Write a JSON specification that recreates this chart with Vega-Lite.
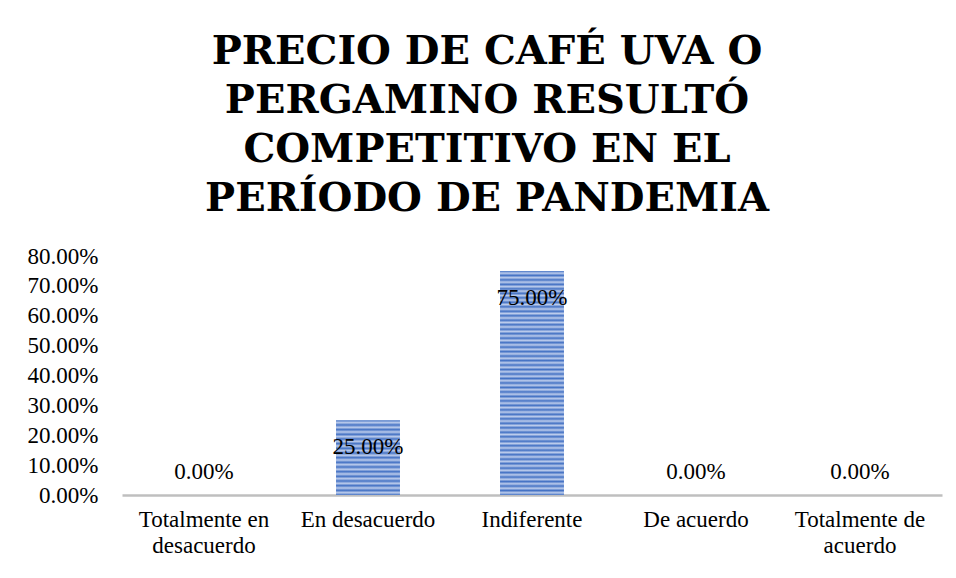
{
  "$schema": "https://vega.github.io/schema/vega-lite/v6.json",
  "autosize": {"type": "none"},
  "width": 820,
  "height": 239,
  "padding": {"left": 122, "top": 256, "right": 14, "bottom": 83},
  "background": "white",
  "title": {
    "text": ["PRECIO DE CAFÉ UVA O", "PERGAMINO RESULTÓ", "COMPETITIVO EN EL", "PERÍODO DE PANDEMIA"],
    "font": "DejaVu Serif",
    "fontSize": 40,
    "fontWeight": "bold",
    "lineHeight": 49,
    "color": "#000000",
    "anchor": "middle",
    "dx": -45,
    "offset": 26
  },
  "data": {
    "values": [
      {"categoria": "Totalmente en desacuerdo", "valor": 0},
      {"categoria": "En desacuerdo", "valor": 0.25},
      {"categoria": "Indiferente", "valor": 0.75},
      {"categoria": "De acuerdo", "valor": 0},
      {"categoria": "Totalmente de acuerdo", "valor": 0}
    ]
  },
  "encoding": {
    "x": {
      "field": "categoria",
      "type": "nominal",
      "sort": ["Totalmente en desacuerdo", "En desacuerdo", "Indiferente", "De acuerdo", "Totalmente de acuerdo"],
      "scale": {"domain": ["Totalmente en desacuerdo", "En desacuerdo", "Indiferente", "De acuerdo", "Totalmente de acuerdo"], "paddingInner": 0.61, "paddingOuter": 0.305},
      "axis": {
        "title": null,
        "labelAngle": 0,
        "labelFont": "Liberation Serif",
        "labelFontSize": 23,
        "labelColor": "#000000",
        "labelPadding": 13,
        "labelLineHeight": 26,
        "labelBaseline": "top",
        "ticks": false,
        "domainColor": "#BFBFBF",
        "domainWidth": 2.5,
        "labelExpr": "datum.value == 'Totalmente en desacuerdo' ? ['Totalmente en', 'desacuerdo'] : datum.value == 'Totalmente de acuerdo' ? ['Totalmente de', 'acuerdo'] : datum.label"
      }
    },
    "y": {
      "field": "valor",
      "type": "quantitative",
      "scale": {"domain": [0, 0.8], "nice": false},
      "axis": {
        "title": null,
        "format": ".2%",
        "values": [0, 0.1, 0.2, 0.3, 0.4, 0.5, 0.6, 0.7, 0.8],
        "labelFont": "Liberation Serif",
        "labelFontSize": 23,
        "labelColor": "#000000",
        "labelPadding": 24,
        "ticks": false,
        "domain": false,
        "grid": false
      }
    }
  },
  "layer": [
    {
      "transform": [{"filter": "datum.valor > 0 && datum.valor < 0.5"}],
      "mark": {
        "type": "bar",
        "fill": {
          "gradient": "linear", "x1": 0, "y1": 0, "x2": 0, "y2": 1,
          "stops": [
            {"offset": 0, "color": "#4472C4"}, {"offset": 0.03125, "color": "#BCCCEC"},
            {"offset": 0.0625, "color": "#4472C4"}, {"offset": 0.09375, "color": "#BCCCEC"},
            {"offset": 0.125, "color": "#4472C4"}, {"offset": 0.15625, "color": "#BCCCEC"},
            {"offset": 0.1875, "color": "#4472C4"}, {"offset": 0.21875, "color": "#BCCCEC"},
            {"offset": 0.25, "color": "#4472C4"}, {"offset": 0.28125, "color": "#BCCCEC"},
            {"offset": 0.3125, "color": "#4472C4"}, {"offset": 0.34375, "color": "#BCCCEC"},
            {"offset": 0.375, "color": "#4472C4"}, {"offset": 0.40625, "color": "#BCCCEC"},
            {"offset": 0.4375, "color": "#4472C4"}, {"offset": 0.46875, "color": "#BCCCEC"},
            {"offset": 0.5, "color": "#4472C4"}, {"offset": 0.53125, "color": "#BCCCEC"},
            {"offset": 0.5625, "color": "#4472C4"}, {"offset": 0.59375, "color": "#BCCCEC"},
            {"offset": 0.625, "color": "#4472C4"}, {"offset": 0.65625, "color": "#BCCCEC"},
            {"offset": 0.6875, "color": "#4472C4"}, {"offset": 0.71875, "color": "#BCCCEC"},
            {"offset": 0.75, "color": "#4472C4"}, {"offset": 0.78125, "color": "#BCCCEC"},
            {"offset": 0.8125, "color": "#4472C4"}, {"offset": 0.84375, "color": "#BCCCEC"},
            {"offset": 0.875, "color": "#4472C4"}, {"offset": 0.90625, "color": "#BCCCEC"},
            {"offset": 0.9375, "color": "#4472C4"}, {"offset": 0.96875, "color": "#BCCCEC"},
            {"offset": 1, "color": "#4472C4"}
          ]
        }
      }
    },
    {
      "transform": [{"filter": "datum.valor >= 0.5"}],
      "mark": {
        "type": "bar",
        "fill": {
          "gradient": "linear", "x1": 0, "y1": 0, "x2": 0, "y2": 1,
          "stops": [
            {"offset": 0, "color": "#4472C4"}, {"offset": 0.01, "color": "#BCCCEC"},
            {"offset": 0.02, "color": "#4472C4"}, {"offset": 0.03, "color": "#BCCCEC"},
            {"offset": 0.04, "color": "#4472C4"}, {"offset": 0.05, "color": "#BCCCEC"},
            {"offset": 0.06, "color": "#4472C4"}, {"offset": 0.07, "color": "#BCCCEC"},
            {"offset": 0.08, "color": "#4472C4"}, {"offset": 0.09, "color": "#BCCCEC"},
            {"offset": 0.10, "color": "#4472C4"}, {"offset": 0.11, "color": "#BCCCEC"},
            {"offset": 0.12, "color": "#4472C4"}, {"offset": 0.13, "color": "#BCCCEC"},
            {"offset": 0.14, "color": "#4472C4"}, {"offset": 0.15, "color": "#BCCCEC"},
            {"offset": 0.16, "color": "#4472C4"}, {"offset": 0.17, "color": "#BCCCEC"},
            {"offset": 0.18, "color": "#4472C4"}, {"offset": 0.19, "color": "#BCCCEC"},
            {"offset": 0.20, "color": "#4472C4"}, {"offset": 0.21, "color": "#BCCCEC"},
            {"offset": 0.22, "color": "#4472C4"}, {"offset": 0.23, "color": "#BCCCEC"},
            {"offset": 0.24, "color": "#4472C4"}, {"offset": 0.25, "color": "#BCCCEC"},
            {"offset": 0.26, "color": "#4472C4"}, {"offset": 0.27, "color": "#BCCCEC"},
            {"offset": 0.28, "color": "#4472C4"}, {"offset": 0.29, "color": "#BCCCEC"},
            {"offset": 0.30, "color": "#4472C4"}, {"offset": 0.31, "color": "#BCCCEC"},
            {"offset": 0.32, "color": "#4472C4"}, {"offset": 0.33, "color": "#BCCCEC"},
            {"offset": 0.34, "color": "#4472C4"}, {"offset": 0.35, "color": "#BCCCEC"},
            {"offset": 0.36, "color": "#4472C4"}, {"offset": 0.37, "color": "#BCCCEC"},
            {"offset": 0.38, "color": "#4472C4"}, {"offset": 0.39, "color": "#BCCCEC"},
            {"offset": 0.40, "color": "#4472C4"}, {"offset": 0.41, "color": "#BCCCEC"},
            {"offset": 0.42, "color": "#4472C4"}, {"offset": 0.43, "color": "#BCCCEC"},
            {"offset": 0.44, "color": "#4472C4"}, {"offset": 0.45, "color": "#BCCCEC"},
            {"offset": 0.46, "color": "#4472C4"}, {"offset": 0.47, "color": "#BCCCEC"},
            {"offset": 0.48, "color": "#4472C4"}, {"offset": 0.49, "color": "#BCCCEC"},
            {"offset": 0.50, "color": "#4472C4"}, {"offset": 0.51, "color": "#BCCCEC"},
            {"offset": 0.52, "color": "#4472C4"}, {"offset": 0.53, "color": "#BCCCEC"},
            {"offset": 0.54, "color": "#4472C4"}, {"offset": 0.55, "color": "#BCCCEC"},
            {"offset": 0.56, "color": "#4472C4"}, {"offset": 0.57, "color": "#BCCCEC"},
            {"offset": 0.58, "color": "#4472C4"}, {"offset": 0.59, "color": "#BCCCEC"},
            {"offset": 0.60, "color": "#4472C4"}, {"offset": 0.61, "color": "#BCCCEC"},
            {"offset": 0.62, "color": "#4472C4"}, {"offset": 0.63, "color": "#BCCCEC"},
            {"offset": 0.64, "color": "#4472C4"}, {"offset": 0.65, "color": "#BCCCEC"},
            {"offset": 0.66, "color": "#4472C4"}, {"offset": 0.67, "color": "#BCCCEC"},
            {"offset": 0.68, "color": "#4472C4"}, {"offset": 0.69, "color": "#BCCCEC"},
            {"offset": 0.70, "color": "#4472C4"}, {"offset": 0.71, "color": "#BCCCEC"},
            {"offset": 0.72, "color": "#4472C4"}, {"offset": 0.73, "color": "#BCCCEC"},
            {"offset": 0.74, "color": "#4472C4"}, {"offset": 0.75, "color": "#BCCCEC"},
            {"offset": 0.76, "color": "#4472C4"}, {"offset": 0.77, "color": "#BCCCEC"},
            {"offset": 0.78, "color": "#4472C4"}, {"offset": 0.79, "color": "#BCCCEC"},
            {"offset": 0.80, "color": "#4472C4"}, {"offset": 0.81, "color": "#BCCCEC"},
            {"offset": 0.82, "color": "#4472C4"}, {"offset": 0.83, "color": "#BCCCEC"},
            {"offset": 0.84, "color": "#4472C4"}, {"offset": 0.85, "color": "#BCCCEC"},
            {"offset": 0.86, "color": "#4472C4"}, {"offset": 0.87, "color": "#BCCCEC"},
            {"offset": 0.88, "color": "#4472C4"}, {"offset": 0.89, "color": "#BCCCEC"},
            {"offset": 0.90, "color": "#4472C4"}, {"offset": 0.91, "color": "#BCCCEC"},
            {"offset": 0.92, "color": "#4472C4"}, {"offset": 0.93, "color": "#BCCCEC"},
            {"offset": 0.94, "color": "#4472C4"}, {"offset": 0.95, "color": "#BCCCEC"},
            {"offset": 0.96, "color": "#4472C4"}, {"offset": 0.97, "color": "#BCCCEC"},
            {"offset": 0.98, "color": "#4472C4"}, {"offset": 0.99, "color": "#BCCCEC"},
            {"offset": 1, "color": "#4472C4"}
          ]
        }
      }
    },
    {
      "transform": [{"filter": "datum.valor > 0"}],
      "mark": {"type": "text", "font": "Liberation Serif", "fontSize": 23, "color": "#000000", "baseline": "middle", "dy": 27},
      "encoding": {"text": {"field": "valor", "type": "quantitative", "format": ".2%"}}
    },
    {
      "transform": [{"filter": "datum.valor == 0"}],
      "mark": {"type": "text", "font": "Liberation Serif", "fontSize": 23, "color": "#000000", "baseline": "middle", "dy": -23},
      "encoding": {"text": {"field": "valor", "type": "quantitative", "format": ".2%"}}
    }
  ],
  "config": {"view": {"stroke": null}}
}
